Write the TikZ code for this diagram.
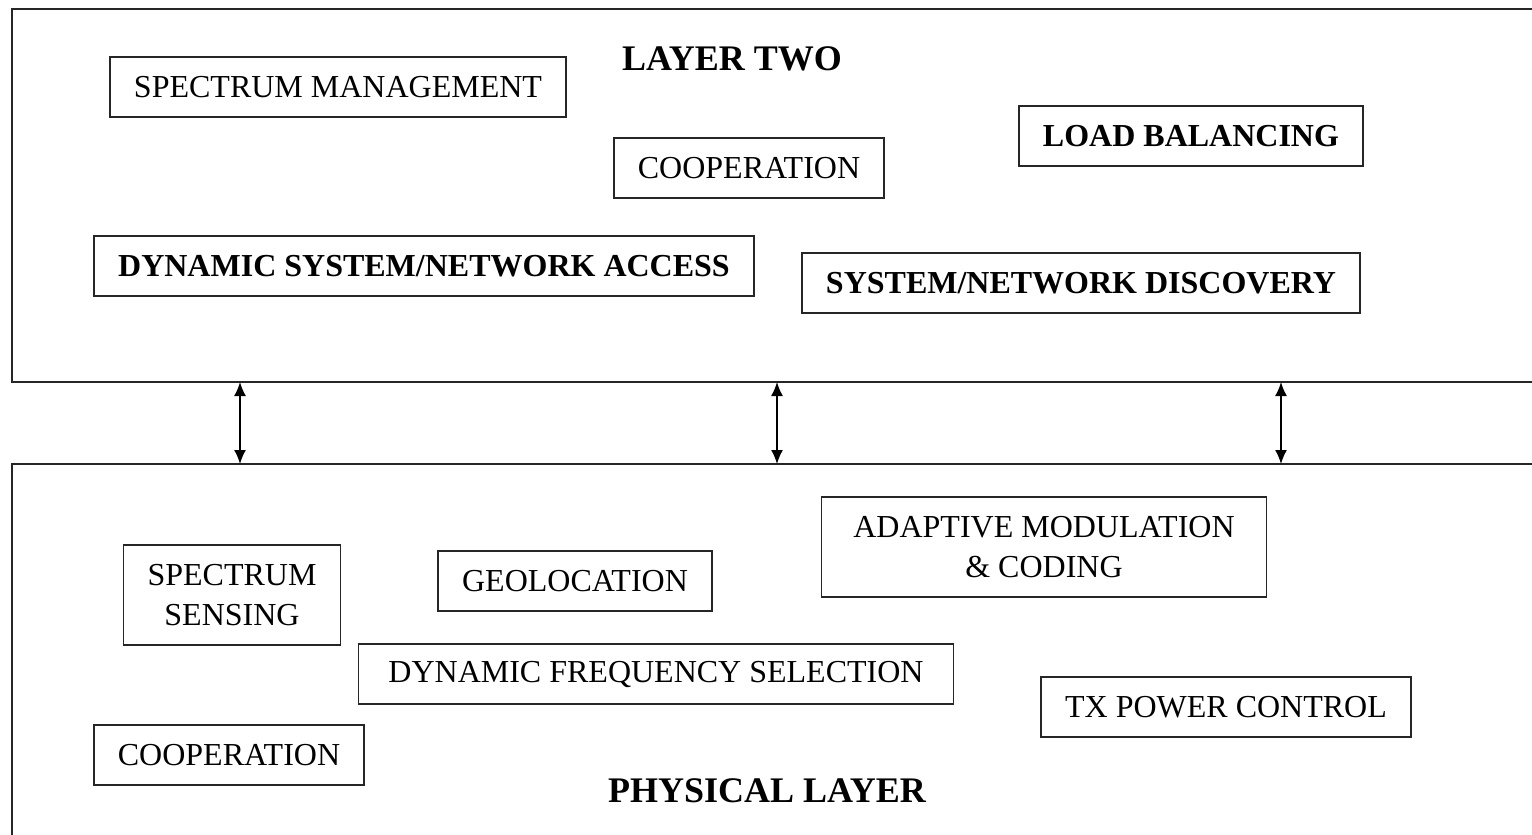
\documentclass[tikz,border=0pt]{standalone}
\usepackage{fontspec}
\setmainfont{Liberation Serif}
\usepackage{tikz}
\usetikzlibrary{arrows.meta,positioning}

\begin{document}
\begin{tikzpicture}[
		x=0.5pt,y=-0.5pt,
		box/.style={draw=black!85,line width=0.7pt,inner xsep=12pt,minimum height=30pt,align=center,font=\fontsize{16}{20}\selectfont},
		bbox/.style={box,font=\fontsize{16}{20}\selectfont\bfseries},
		layer/.style={font=\fontsize{18}{22}\selectfont\bfseries},
		frame/.style={draw=black!85,line width=0.8pt},
		arrow/.style={{Latex[length=7pt,width=6pt]}-{Latex[length=7pt,width=6pt]},line width=0.8pt}
		]
		\useasboundingbox (0,0) rectangle (1532,835);
		\clip (0,0) rectangle (1532,835);
		% layer frames
		\draw[frame] (1540,9) -- (12,9) -- (12,382) -- (1540,382);
		\draw[frame] (1540,464) -- (12,464) -- (12,845);
		% layer two
		\node[layer] (two) at (732,59) {LAYER TWO};
		\node[box] (specman) at (338,87) {SPECTRUM MANAGEMENT};
		\node[box] (coop2) at (749,168) {COOPERATION};
		\node[bbox] (load) at (1191,136) {LOAD BALANCING};
		\node[bbox] (access) at (424,266) {DYNAMIC SYSTEM/NETWORK ACCESS};
		\node[bbox] (discovery) at (1081,283) {SYSTEM/NETWORK DISCOVERY};
		% physical layer
		\node[box,minimum height=50pt] (sensing) at (232,595) {SPECTRUM\\SENSING};
		\node[box] (geo) at (575,581) {GEOLOCATION};
		\node[box,minimum height=50pt,inner xsep=16pt] (amc) at (1044,547) {ADAPTIVE MODULATION\\\& CODING};
		\node[box,inner xsep=15pt] (dfs) at (656,674) {DYNAMIC FREQUENCY SELECTION};
		\node[box] (txpc) at (1226,707) {TX POWER CONTROL};
		\node[box] (coop1) at (229,755) {COOPERATION};
		\node[layer] (phy) at (767,791) {PHYSICAL LAYER};
		% links between layers
		\coordinate (t1) at (240,382);
		\coordinate (b1) at (240,464);
		\coordinate (t2) at (777,382);
		\coordinate (b2) at (777,464);
		\coordinate (t3) at (1281,382);
		\coordinate (b3) at (1281,464);
		\draw[arrow] (t1)--(b1);
		\draw[arrow] (t2)--(b2);
		\draw[arrow] (t3)--(b3);
	\end{tikzpicture}
\end{document}
